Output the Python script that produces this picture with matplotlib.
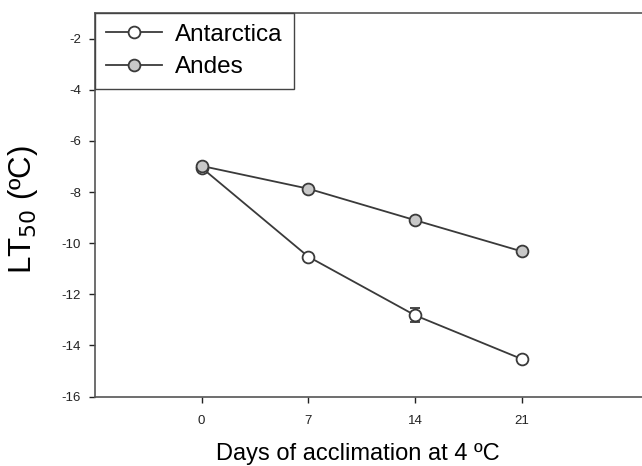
import matplotlib.pyplot as plt
from matplotlib.lines import Line2D

plt.rcParams['font.family'] = ['Liberation Sans', 'DejaVu Sans']
plt.rcParams['axes.unicode_minus'] = False

# Days of acclimation
days = [0, 7, 14, 21]

# LT50 values
lt50_antarctica = [-7.05, -10.53, -12.82, -14.53]
err_antarctica = [0.05, 0.08, 0.28, 0.08]
lt50_andes = [-6.98, -7.87, -9.1, -10.32]
err_andes = [0.05, 0.08, 0.1, 0.1]

fig = plt.figure(figsize=(6.42, 4.66), dpi=100)
ax = fig.add_axes([0.148, 0.149, 0.852, 0.823])

line_col = '#3a3a3a'
style_ant = dict(color=line_col, linewidth=1.3, marker='o', markerfacecolor='white',
                 markeredgecolor=line_col, markersize=8.5, markeredgewidth=1.3)
style_and = dict(color=line_col, linewidth=1.3, marker='o', markerfacecolor='#c8c8c8',
                 markeredgecolor=line_col, markersize=8.5, markeredgewidth=1.3)

ax.errorbar(days, lt50_antarctica, yerr=err_antarctica, capsize=3.5, elinewidth=1.0,
            capthick=1.5, zorder=3, **style_ant)
ax.errorbar(days, lt50_andes, yerr=err_andes, capsize=3.5, elinewidth=1.0,
            capthick=1.5, zorder=3, **style_and)

ax.set_xlim(-7, 28.9)
ax.set_ylim(-16, -1)
ax.set_xticks(days)
ax.set_yticks(range(-16, -1, 2))
ax.tick_params(labelsize=9.5, length=4, width=1, colors='#222222')
ax.tick_params(axis='y', pad=6)
ax.tick_params(axis='x', pad=9)
ax.spines['right'].set_visible(False)
for s in ['left', 'bottom', 'top']:
    ax.spines[s].set_color('#555555')
    ax.spines[s].set_linewidth(1.2)

ax.set_xlabel('Days of acclimation at 4 ºC', fontsize=17, labelpad=12)
ax.set_ylabel('LT$_{50}$ (ºC)', fontsize=22.5, labelpad=16)
ax.xaxis.label.set_x(0.481)
ax.yaxis.label.set_y(0.487)

handles = [Line2D([], [], **style_ant), Line2D([], [], **style_and)]
leg = ax.legend(handles, ["Antarctica", "Andes"], loc='upper left', bbox_to_anchor=(0, 1),
                borderaxespad=0, fancybox=False, edgecolor='#444444', fontsize=17.5,
                handlelength=2.3, handletextpad=0.55, borderpad=0.45, labelspacing=0.42,
                framealpha=1)
leg.get_frame().set_linewidth(1.0)

fig.savefig('out.png', dpi=100)
